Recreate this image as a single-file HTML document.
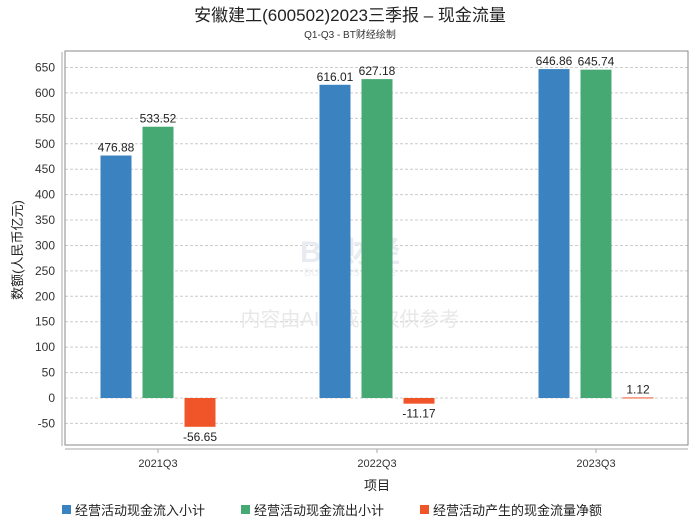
<!DOCTYPE html>
<html><head><meta charset="utf-8"><style>
body{margin:0;background:#fff;font-family:"Liberation Sans","Noto Sans CJK SC",sans-serif;}
svg text{font-family:"Liberation Sans","Noto Sans CJK SC",sans-serif;}
</style></head><body>
<svg width="700" height="524" viewBox="0 0 700 524">
<rect width="700" height="524" fill="#fff"/>
<text x="350" y="21" text-anchor="middle" font-size="17" fill="#222">安徽建工(600502)2023三季报 – 现金流量</text>
<text x="350" y="38" text-anchor="middle" font-size="10" fill="#333">Q1-Q3 - BT财经绘制</text>
<g id="grid"></g>
<rect x="65" y="51" width="623" height="394" fill="none" stroke="#888"/>
<line x1="62" y1="52" x2="62" y2="446" stroke="#aaa"/>
<line x1="65" y1="449" x2="688" y2="449" stroke="#aaa"/>
<text x="350" y="262" text-anchor="middle" font-size="30" fill="#e8ecf1" font-weight="bold">BT财经</text>
<text x="350" y="276" text-anchor="middle" font-size="11" fill="#eceff3">BUSINESS TIMES</text>
<text x="350" y="326" text-anchor="middle" font-size="20" fill="#e8e8e8">内容由AI生成，仅供参考</text>
<g id="bars"></g>
<text x="22" y="250" text-anchor="middle" font-size="13" fill="#222" transform="rotate(-90 22 250)">数额(人民币亿元)</text>
<text x="377" y="490" text-anchor="middle" font-size="13" fill="#222">项目</text>
<g id="legend"></g>
</svg>
<script>
const categories=["2021Q3","2022Q3","2023Q3"];
const seriesNames=["经营活动现金流入小计","经营活动现金流出小计","经营活动产生的现金流量净额"];
const inflow=[476.88,616.01,646.86];
const outflow=[533.52,627.18,645.74];
const net=[-56.65,-11.17,1.12];
const yTicks=[-50,0,50,100,150,200,250,300,350,400,450,500,550,600,650];
const colors=["#3a82c0","#46a974","#f0552a"];
const NS="http://www.w3.org/2000/svg";
function y(v){return 398-v*(330.5/650);}
function cx(i){return 158+i*219;}
function mk(t,a,p){const e=document.createElementNS(NS,t);for(const k in a)e.setAttribute(k,a[k]);p.appendChild(e);return e;}
const grid=document.getElementById('grid');
yTicks.forEach(t=>{
  const l=mk('line',{x1:65,x2:688,y1:y(t),y2:y(t),stroke:'#ccc','stroke-dasharray':'3,2'},grid);
  
  
  const tx=mk('text',{x:55,y:y(t)+4,'text-anchor':'end','font-size':12,fill:'#333'},grid);
  tx.textContent=t;
  
  
});
const bars=document.getElementById('bars');
const series=[inflow,outflow,net];
categories.forEach((c,i)=>{
  const tk=mk('line',{x1:cx(i),x2:cx(i),y1:449,y2:453,stroke:'#aaa'},bars);
  
  
  const lt=mk('text',{x:cx(i),y:467,'text-anchor':'middle','font-size':11,fill:'#333'},bars);
  lt.textContent=c;
  
  
  series.forEach((s,j)=>{
    const v=s[i];const x=cx(i)+(j-1)*42-15.5;
    const top=Math.min(y(v),y(0));const h=Math.max(Math.abs(y(v)-y(0)),1);
    const r=mk('rect',{x:x,y:top,width:31,height:h,fill:colors[j]},bars);
    
    
    const t=mk('text',{x:x+15.5,y:v>=0?y(v)-4:y(v)+14,'text-anchor':'middle','font-size':12,fill:'#222'},bars);
    t.textContent=v.toFixed(2);
    
    
  });
});
const lg=document.getElementById('legend');
const lx=[62,241,420];
seriesNames.forEach((n,j)=>{
  const r=mk('rect',{x:lx[j],y:505,width:9,height:9,fill:colors[j]},lg);
  
  
  const t=mk('text',{x:lx[j]+13,y:515,'font-size':13,fill:'#222'},lg);
  t.textContent=n;
  
  
});
</script>
</body></html>
